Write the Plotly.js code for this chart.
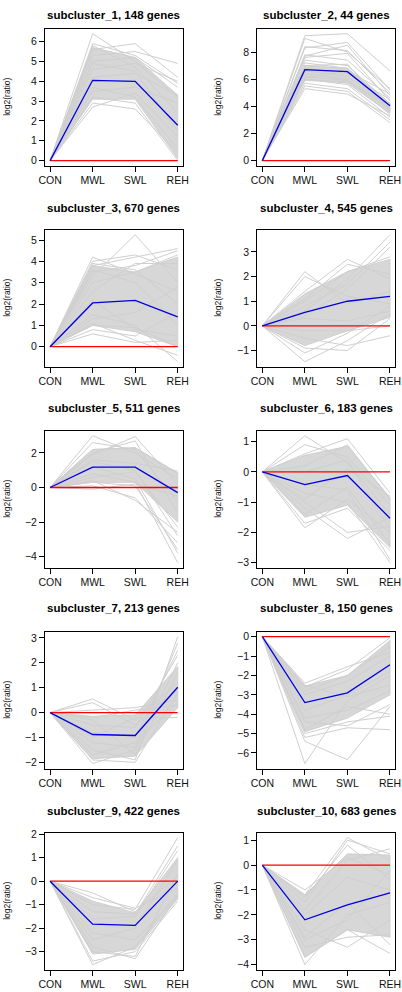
<!DOCTYPE html>
<html>
<head>
<meta charset="utf-8">
<script src="https://cdn.plot.ly/plotly-3.0.1.min.js"></script>
<style>
html,body{margin:0;padding:0;background:#fff;}
#chart{width:402px;height:992px;}
</style>
</head>
<body>
<div id="chart"></div>
<script>
// ---------------- DATA ----------------
const conditions = ["CON", "MWL", "SWL", "REH"];
const titles = [
  "subcluster_1, 148 genes", "subcluster_2, 44 genes",
  "subcluster_3, 670 genes", "subcluster_4, 545 genes",
  "subcluster_5, 511 genes", "subcluster_6, 183 genes",
  "subcluster_7, 213 genes", "subcluster_8, 150 genes",
  "subcluster_9, 422 genes", "subcluster_10, 683 genes"
];
const yTickStep = [1, 2, 1, 1, 2, 1, 1, 1, 1, 1];

// cluster mean profiles (blue)
const mean_1 = [0, 4.05, 4.0, 1.78];
const mean_2 = [0, 6.7, 6.55, 4.05];
const mean_3 = [0, 2.05, 2.17, 1.4];
const mean_4 = [0, 0.55, 1.0, 1.2];
const mean_5 = [0, 1.18, 1.18, -0.3];
const mean_6 = [0, -0.42, -0.12, -1.53];
const mean_7 = [0, -0.88, -0.92, 1.02];
const mean_8 = [0, -3.4, -2.9, -1.45];
const mean_9 = [0, -1.83, -1.88, 0.0];
const mean_10 = [0, -2.2, -1.6, -1.12];

// reference profile (red)
const zero_line = [0, 0, 0, 0];

// dense core of gene profiles: upper and lower bounds
const bandHigh_1 = [0, 5.7, 5.2, 3.3];   const bandLow_1 = [0, 3.1, 3.1, 0.1];
const bandHigh_2 = [0, 7.0, 6.8, 4.2];   const bandLow_2 = [0, 6.0, 5.7, 3.5];
const bandHigh_3 = [0, 3.8, 3.5, 4.2];   const bandLow_3 = [0, 1.0, 0.7, 0.0];
const bandHigh_4 = [0, 1.3, 2.2, 2.7];   const bandLow_4 = [0, -0.8, -0.2, 0.35];
const bandHigh_5 = [0, 2.2, 2.3, 0.85];  const bandLow_5 = [0, 0.3, 0.3, -2.0];
const bandHigh_6 = [0, 0.55, 0.85, -0.85]; const bandLow_6 = [0, -1.5, -1.1, -2.5];
const bandHigh_7 = [0, -0.15, -0.1, 1.85]; const bandLow_7 = [0, -1.85, -1.75, 0.2];
const bandHigh_8 = [0, -2.55, -2.0, -0.2]; const bandLow_8 = [0, -4.9, -4.2, -3.0];
const bandHigh_9 = [0, -0.85, -1.35, 1.0]; const bandLow_9 = [0, -3.1, -2.9, -0.75];
const bandHigh_10 = [0, -1.2, 0.45, 0.4]; const bandLow_10 = [0, -3.7, -2.6, -2.9];

// individual gene profiles (grey), mostly the visible outer ones
const genes_1 = [
  [0, 6.4, 5.0, 3.2], [0, 5.9, 5.3, 3.9], [0, 5.6, 5.9, 4.2], [0, 5.3, 5.5, 4.9],
  [0, 5.0, 5.2, 3.7], [0, 5.8, 4.7, 2.4], [0, 4.6, 4.9, 4.0], [0, 2.7, 3.4, 1.2],
  [0, 2.9, 2.6, 0.4], [0, 3.2, 2.9, 0.0], [0, 3.5, 3.7, 2.9], [0, 4.2, 4.4, 3.3],
  [0, 3.7, 3.2, 0.6], [0, 4.9, 4.5, 1.5]
];
const genes_2 = [
  [0, 9.2, 9.35, 6.6], [0, 9.0, 8.0, 5.3], [0, 8.4, 8.1, 5.0], [0, 8.3, 8.7, 5.2],
  [0, 7.7, 8.5, 4.8], [0, 7.8, 7.4, 4.6], [0, 7.6, 7.9, 4.4], [0, 7.4, 7.0, 4.2],
  [0, 7.2, 6.8, 4.0], [0, 7.0, 7.1, 3.6], [0, 6.8, 6.4, 4.5], [0, 6.6, 6.2, 3.9],
  [0, 6.4, 6.0, 3.4], [0, 6.2, 5.9, 3.8], [0, 6.0, 5.6, 3.2], [0, 5.9, 5.8, 4.1],
  [0, 5.7, 5.3, 3.0], [0, 5.5, 5.1, 2.8], [0, 5.3, 4.9, 3.3], [0, 6.1, 6.6, 4.9]
];
const genes_3 = [
  [0, 3.3, 5.25, 3.0], [0, 4.2, 3.4, 2.6], [0, 4.0, 4.3, 3.6], [0, 3.8, 4.2, 4.6],
  [0, 3.5, 3.8, 4.5], [0, 3.0, 3.5, 4.3], [0, 2.6, 3.9, 3.9], [0, 0.6, 0.2, 0.3],
  [0, 0.8, 0.5, 1.6], [0, 1.0, 0.9, 0.0], [0, 1.1, 0.3, -0.4], [0, 1.5, 1.0, -0.7],
  [0, 2.2, 0.8, 0.5], [0, 1.3, 1.6, 2.8], [0, 3.6, 3.0, 1.0], [0, 3.9, 3.6, 2.0]
];
const genes_4 = [
  [0, 2.2, 0.9, 1.4], [0, 2.0, 1.2, 0.9], [0, 1.4, 2.7, 1.9], [0, 1.1, 2.5, 2.1],
  [0, 0.6, 1.9, 3.7], [0, 0.8, 1.7, 3.4], [0, 0.4, 1.5, 3.2], [0, -1.45, -0.6, 0.5],
  [0, -1.1, -0.3, 0.8], [0, -0.9, -1.0, 0.3], [0, -0.5, -0.8, -0.4], [0, -0.2, -0.2, 0.0],
  [0, 0.3, 0.2, 0.6], [0, 1.0, 2.2, 2.8]
];
const genes_5 = [
  [0, 3.0, 2.0, 0.5], [0, 2.6, 2.2, -0.8], [0, 1.9, 2.95, 0.2], [0, 2.0, 2.7, -1.5],
  [0, -0.1, 0.2, -0.5], [0, 0.1, -0.6, -3.2], [0, 0.4, -0.75, -2.6], [0, 0.8, 0.3, -4.35],
  [0, 1.2, 0.5, -3.8], [0, 0.3, 0.1, -3.6], [0, 1.5, 1.0, -2.8], [0, 0.6, 0.9, -2.3],
  [0, 1.6, 1.4, 0.95], [0, 2.2, 2.3, 0.8]
];
const genes_6 = [
  [0, 1.2, 0.3, -1.4], [0, 0.9, 0.5, -1.1], [0, 0.6, 1.1, -0.7], [0, 0.2, 0.9, -0.9],
  [0, -1.85, -0.9, -2.0], [0, -1.7, -1.2, -2.6], [0, -1.2, -2.2, -1.5], [0, -1.0, -2.0, -1.8],
  [0, -0.7, -1.0, -3.0], [0, -0.4, -0.6, -2.9], [0, -1.4, -0.5, -2.4], [0, 0.0, 0.4, -1.9],
  [0, -0.9, 0.1, -0.8]
];
const genes_7 = [
  [0, 0.55, -0.3, 1.2], [0, 0.4, -0.5, 0.9], [0, 0.1, 0.2, 0.5], [0, -0.2, 0.1, 0.3],
  [0, -2.05, -1.5, 2.0], [0, -1.9, -2.0, 0.8], [0, -1.5, -1.9, 3.05], [0, -1.2, -1.4, 2.8],
  [0, -0.8, -1.0, 2.5], [0, -0.5, -0.6, 2.3], [0, -1.0, -0.2, -0.2], [0, -1.7, -1.2, 0.4],
  [0, -0.3, -1.7, 1.6]
];
const genes_8 = [
  [0, -6.55, -3.3, -2.0], [0, -5.4, -6.35, -3.6], [0, -5.2, -4.7, -4.8], [0, -5.0, -4.4, -4.1],
  [0, -4.8, -3.6, -4.0], [0, -4.4, -4.6, -3.5], [0, -2.4, -1.55, -0.8], [0, -2.6, -1.7, -0.05],
  [0, -2.8, -2.0, -0.5], [0, -3.0, -2.3, -1.0], [0, -3.8, -3.0, -1.8], [0, -2.5, -3.1, -2.5],
  [0, -4.2, -3.8, -2.8]
];
const genes_9 = [
  [0, -0.5, -1.3, 0.2], [0, -0.7, -1.15, -0.3], [0, -1.0, -1.2, 1.85], [0, -1.3, -1.4, 1.5],
  [0, -1.6, -1.5, 1.3], [0, -3.55, -2.8, -0.5], [0, -3.4, -3.0, -0.85], [0, -2.8, -3.3, -0.6],
  [0, -3.0, -3.2, 0.3], [0, -2.2, -2.5, -0.7], [0, -2.5, -2.0, 0.9]
];
const genes_10 = [
  [0, -1.0, 0.3, -0.4], [0, -1.2, 1.1, 0.2], [0, -1.5, 1.0, 0.45], [0, -1.3, 0.8, -0.6],
  [0, -1.8, 0.2, 0.65], [0, -4.0, -2.0, -1.5], [0, -3.7, -2.6, -3.55], [0, -3.3, -2.9, -2.8],
  [0, -2.6, -3.3, -2.2], [0, -2.9, -1.5, -3.2], [0, -2.0, -0.5, -1.0], [0, -3.0, -2.2, -0.2]
];

// --------------- assemble ----------------
const panels = [
  {mean: mean_1, hi: bandHigh_1, lo: bandLow_1, genes: genes_1},
  {mean: mean_2, hi: bandHigh_2, lo: bandLow_2, genes: genes_2},
  {mean: mean_3, hi: bandHigh_3, lo: bandLow_3, genes: genes_3},
  {mean: mean_4, hi: bandHigh_4, lo: bandLow_4, genes: genes_4},
  {mean: mean_5, hi: bandHigh_5, lo: bandLow_5, genes: genes_5},
  {mean: mean_6, hi: bandHigh_6, lo: bandLow_6, genes: genes_6},
  {mean: mean_7, hi: bandHigh_7, lo: bandLow_7, genes: genes_7},
  {mean: mean_8, hi: bandHigh_8, lo: bandLow_8, genes: genes_8},
  {mean: mean_9, hi: bandHigh_9, lo: bandLow_9, genes: genes_9},
  {mean: mean_10, hi: bandHigh_10, lo: bandLow_10, genes: genes_10}
];

const W = 402, H = 992;
const FONT = "Liberation Sans, Arial, Helvetica, sans-serif";
const GREY_LINE = "#cfcfcf";
const GREY_FILL = "#d7d7d7";
const colPix = [[45, 182.8], [257.2, 395.1]];
const rowTop0 = 28.6, rowStep = 201, boxH = 137.1;
const titlePix = [15, 207.7, 407.7, 607.7, 811.3];
const ylabPix = [6.7, 217.7];

const traces = [];
const layout = {
  width: W, height: H,
  margin: {l: 0, r: 0, t: 0, b: 0},
  paper_bgcolor: "#ffffff", plot_bgcolor: "#ffffff",
  showlegend: false,
  font: {family: FONT, color: "#000"},
  annotations: []
};

panels.forEach((p, i) => {
  const r = Math.floor(i / 2), c = i % 2;
  const sfx = i === 0 ? "" : String(i + 1);
  const xa = "x" + sfx, ya = "y" + sfx;

  // band
  traces.push({
    x: conditions.concat(conditions.slice().reverse()),
    y: p.hi.concat(p.lo.slice().reverse()),
    xaxis: xa, yaxis: ya, type: "scatter", mode: "lines",
    fill: "toself", fillcolor: GREY_FILL,
    line: {color: GREY_LINE, width: 1}, hoverinfo: "skip"
  });
  // genes
  p.genes.forEach(g => traces.push({
    x: conditions, y: g, xaxis: xa, yaxis: ya, type: "scatter", mode: "lines",
    line: {color: GREY_LINE, width: 1}, hoverinfo: "skip"
  }));
  // red zero line
  traces.push({
    x: conditions, y: zero_line, xaxis: xa, yaxis: ya, type: "scatter", mode: "lines",
    line: {color: "#ff0000", width: 1.3}, hoverinfo: "skip"
  });
  // blue mean
  traces.push({
    x: conditions, y: p.mean, xaxis: xa, yaxis: ya, type: "scatter", mode: "lines",
    line: {color: "#0000e0", width: 1.3}, hoverinfo: "skip"
  });

  // y range (R style: data range + 4% each side)
  const all = [].concat(p.mean, p.hi, p.lo, zero_line, ...p.genes);
  const mn = Math.min(...all), mx = Math.max(...all);
  const ext = (mx - mn) * 0.04;

  const top = rowTop0 + r * rowStep, bot = top + boxH;
  const [x0, x1] = colPix[c];

  const axCommon = {
    showline: true, mirror: true, linecolor: "#000", linewidth: 1,
    ticks: "outside", ticklen: 5, tickwidth: 1, tickcolor: "#000",
    showgrid: false, zeroline: false, fixedrange: true,
    tickfont: {family: FONT, size: 10.5, color: "#111"}
  };
  layout["xaxis" + sfx] = Object.assign({}, axCommon, {
    domain: [x0 / W, x1 / W], anchor: ya, type: "category",
    range: [-0.12, 3.12]
  });
  layout["yaxis" + sfx] = Object.assign({}, axCommon, {
    domain: [1 - bot / H, 1 - top / H], anchor: xa,
    range: [mn - ext, mx + ext], dtick: yTickStep[i], tick0: 0
  });

  layout.annotations.push({
    text: titles[i], xref: "paper", yref: "paper",
    x: (x0 + x1) / 2 / W, y: 1 - titlePix[r] / H,
    xanchor: "center", yanchor: "middle", showarrow: false,
    font: {family: FONT, size: 11.5, color: "#000", weight: "bold"}
  });
  layout.annotations.push({
    text: "log2(ratio)", xref: "paper", yref: "paper",
    x: ylabPix[c] / W, y: 1 - (top + bot) / 2 / H,
    xanchor: "center", yanchor: "middle", showarrow: false, textangle: -90,
    font: {family: FONT, size: 8.5, color: "#111"}
  });
});

Plotly.newPlot("chart", traces, layout, {staticPlot: true, displayModeBar: false});
</script>
</body>
</html>
